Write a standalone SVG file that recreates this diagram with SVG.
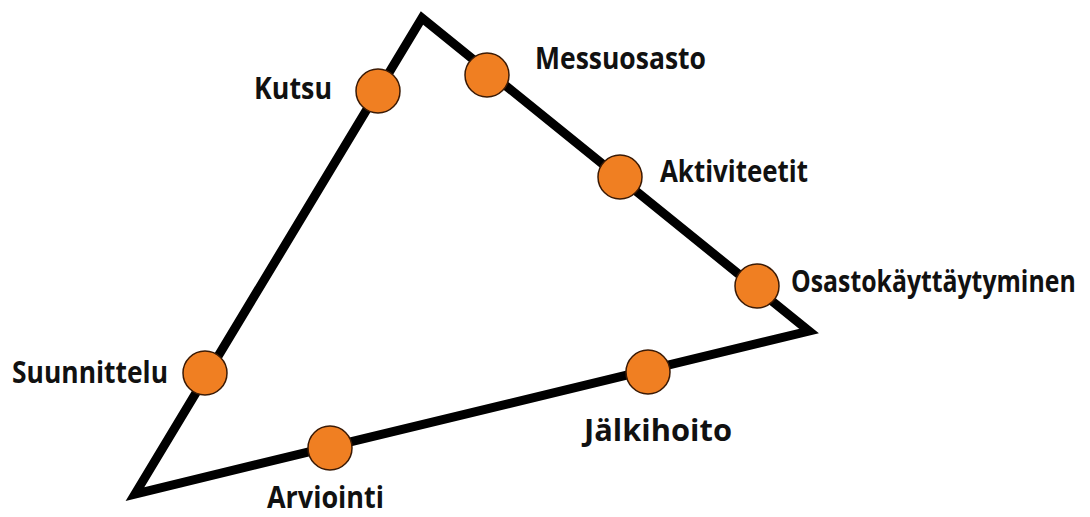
<svg xmlns="http://www.w3.org/2000/svg" width="1090" height="517" viewBox="0 0 1090 517">
<style>
.lbl{font-family:"Open Sans","Liberation Sans",sans-serif;font-weight:bold;font-size:31px;fill:#111}
.dot{fill:#F07F22;stroke:#3a1a05;stroke-width:1.5}
</style>
<rect width="1090" height="517" fill="#fff"/>
<g id="connectors">
<polygon points="422,18 809,331 135,494" fill="none" stroke="#000" stroke-width="9" stroke-linejoin="miter"/>
</g>
<g id="kutsu"><circle class="dot" cx="378" cy="91" r="22"/><text class="lbl" x="254" y="99" textLength="78" lengthAdjust="spacingAndGlyphs">Kutsu</text></g>
<g id="messuosasto"><circle class="dot" cx="487" cy="75" r="22"/><text class="lbl" x="535" y="69" textLength="171" lengthAdjust="spacingAndGlyphs">Messuosasto</text></g>
<g id="aktiviteetit"><circle class="dot" cx="620" cy="177" r="22"/><text class="lbl" x="660" y="182" textLength="148" lengthAdjust="spacingAndGlyphs">Aktiviteetit</text></g>
<g id="osastokayttaytyminen"><circle class="dot" cx="757" cy="286" r="22"/><text class="lbl" transform="translate(791,292) scale(0.78,1)" x="0" y="0" font-size="30" textLength="365" lengthAdjust="spacingAndGlyphs">Osastokäyttäytyminen</text></g>
<g id="suunnittelu"><circle class="dot" cx="205" cy="373" r="22"/><text class="lbl" x="12" y="383" textLength="156" lengthAdjust="spacingAndGlyphs">Suunnittelu</text></g>
<g id="jalkihoito"><circle class="dot" cx="648" cy="372" r="22"/><text class="lbl" x="584" y="441" textLength="148" lengthAdjust="spacingAndGlyphs">Jälkihoito</text></g>
<g id="arviointi"><circle class="dot" cx="330" cy="448" r="22"/><text class="lbl" x="267" y="508" textLength="117" lengthAdjust="spacingAndGlyphs">Arviointi</text></g>
</svg>
